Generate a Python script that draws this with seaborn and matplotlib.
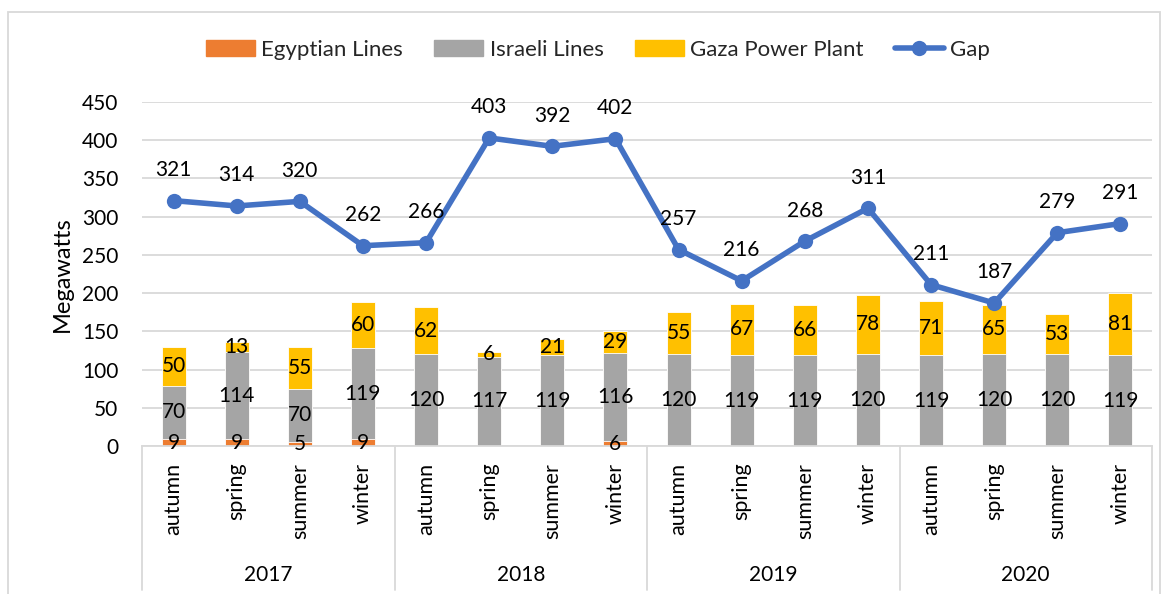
import matplotlib
matplotlib.use('Agg')
import matplotlib.pyplot as plt
import matplotlib.transforms as mtransforms
from matplotlib.patches import Patch, Rectangle
from matplotlib.lines import Line2D
import seaborn as sns
import pandas as pd
import numpy as np

# data
years = ['2017', '2018', '2019', '2020']
seasons = ['autumn', 'spring', 'summer', 'winter']
egyptian = [9, 9, 5, 9, 0, 0, 0, 6, 0, 0, 0, 0, 0, 0, 0, 0]
israeli = [70, 114, 70, 119, 120, 117, 119, 116, 120, 119, 119, 120, 119, 120, 120, 119]
gaza = [50, 13, 55, 60, 62, 6, 21, 29, 55, 67, 66, 78, 71, 65, 53, 81]
gap = [321, 314, 320, 262, 266, 403, 392, 402, 257, 216, 268, 311, 211, 187, 279, 291]

EGY = '#ED7D31'
ISR = '#A5A5A5'
GAZA = '#FFC000'
GAP = '#4472C4'
GRID = '#D9D9D9'

sns.set_style('white')
plt.rcParams['font.family'] = ['Lato', 'DejaVu Sans']

df = pd.DataFrame({
    'year': np.repeat(years, len(seasons)),
    'season': seasons * len(years),
    'egyptian': egyptian, 'israeli': israeli, 'gaza': gaza, 'gap': gap,
})
df['pos'] = np.arange(len(df))
df['mid'] = df['egyptian'] + df['israeli']
df['top'] = df['mid'] + df['gaza']

W, H = 1167, 594
fig = plt.figure(figsize=(W / 100, H / 100), dpi=100)
ax = fig.add_axes([142 / W, 1 - 446 / H, (1152 - 142) / W, (446 - 102) / H])

# stacked bars drawn as overlays (total first)
for col, color in [('top', GAZA), ('mid', ISR), ('egyptian', EGY)]:
    sns.barplot(data=df, x='pos', y=col, color=color, saturation=1, width=0.38,
                native_scale=True, errorbar=None, ax=ax, zorder=2, linewidth=0.6)

sns.lineplot(data=df, x='pos', y='gap', color=GAP, linewidth=4, marker='o',
             markersize=11, markeredgewidth=0, sort=False, ax=ax, zorder=4)

# segment labels
for _, r in df.iterrows():
    segs = [(r['egyptian'], 0), (r['israeli'], r['egyptian']), (r['gaza'], r['mid'])]
    for val, base in segs:
        if val > 0:
            ax.text(r['pos'], base + val / 2, f'{val}', ha='center', va='center',
                    fontsize=15, color='black', zorder=5)
    ax.annotate(f"{r['gap']}", (r['pos'], r['gap']), xytext=(0, 22),
                textcoords='offset points', ha='center', va='center',
                fontsize=15, color='black', zorder=5)

ax.set_xlim(-0.5, len(df) - 0.5)
ax.set_ylim(0, 450)
ax.set_yticks(range(0, 451, 50))
ax.yaxis.grid(True, color=GRID, linewidth=1.3)
ax.set_axisbelow(True)
ax.tick_params(axis='y', length=0, pad=17, labelsize=15, labelcolor='black')
ax.set_xticks(df['pos'])
ax.set_xticklabels(df['season'], rotation=90, va='top', ha='center')
ax.tick_params(axis='x', length=0, pad=12, labelsize=15.5, labelcolor='black')
for s in ['top', 'right', 'left']:
    ax.spines[s].set_visible(False)
ax.spines['bottom'].set_color(GRID)
ax.spines['bottom'].set_linewidth(1.3)
ax.set_xlabel('')
ax.set_ylabel('Megawatts', fontsize=17, color='black')
ax.yaxis.set_label_coords(-(142 - 73) / 1010, 0.5)

# year group axis below the season labels
trans = mtransforms.blended_transform_factory(ax.transData, ax.transAxes)
n = len(seasons)
for i, y in enumerate(years):
    ax.text(df['pos'][i * n: (i + 1) * n].mean(), -0.375, y, transform=trans,
            ha='center', va='center', fontsize=15, color='black')
for b in np.arange(len(years) + 1) * n - 0.5:
    ax.add_line(Line2D([b, b], [0, -0.42], transform=trans, color=GRID,
                       linewidth=1.3, clip_on=False))

handles = [Patch(color=EGY, label='Egyptian Lines'),
           Patch(color=ISR, label='Israeli Lines'),
           Patch(color=GAZA, label='Gaza Power Plant'),
           Line2D([], [], color=GAP, linewidth=4, marker='o', markersize=11,
                  markeredgewidth=0, label='Gap')]
fig.legend(handles=handles, loc='center', bbox_to_anchor=(598 / W, 1 - 50 / H),
           ncol=4, frameon=False, fontsize=16, handlelength=2.2, handleheight=0.7,
           columnspacing=1.4, handletextpad=0.3)

fig.add_artist(Rectangle((8 / W, -0.01), (1160 - 8) / W, 1 - 12 / H + 0.01,
                         transform=fig.transFigure, fill=False,
                         edgecolor=GRID, linewidth=1.3))

fig.savefig('out.png', dpi=100)
